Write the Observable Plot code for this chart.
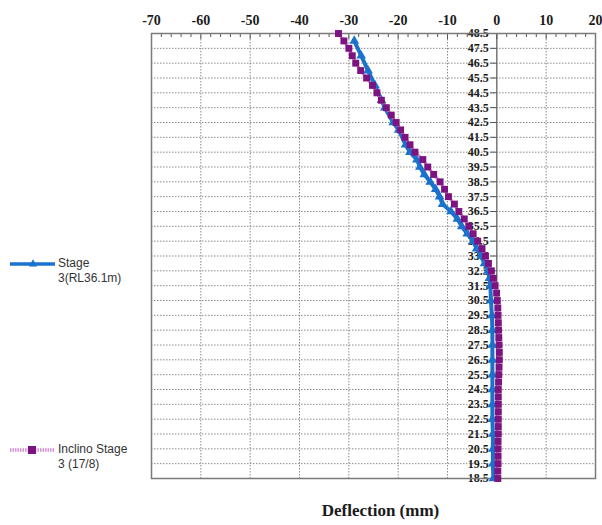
<!DOCTYPE html>
<html>
<head>
<meta charset="utf-8">
<script src="https://cdn.jsdelivr.net/npm/d3@7"></script>
<script src="https://cdn.jsdelivr.net/npm/@observablehq/plot@0.6"></script>
<style>
  html, body { margin: 0; padding: 0; background: #fff; }
  #wrap { position: relative; width: 602px; height: 525px; overflow: hidden; }
  #chart { position: absolute; left: 0; top: 0; }
  .leg { position: absolute; font-family: "Liberation Sans", Arial, sans-serif; font-size: 12px; color: #333; line-height: 15px; }
  .legsw { position: absolute; }
</style>
</head>
<body>
<div id="wrap">
  <div id="chart"></div>
</div>
<script>
// ---------- data ----------
const xTicks = [-70, -60, -50, -40, -30, -20, -10, 0, 10, 20];
const xGrid = [-60, -50, -40, -30, -20, -10, 10];
const xMinor = [-68, -66, -64, -62, -58, -56, -54, -52, -48, -46, -44, -42, -38, -36, -34, -32, -28, -26, -24, -22, -18, -16, -14, -12, -8, -6, -4, -2, 2, 4, 6, 8, 12, 14, 16, 18];
const yTicks = [48.5, 47.5, 46.5, 45.5, 44.5, 43.5, 42.5, 41.5, 40.5, 39.5, 38.5, 37.5, 36.5, 35.5, 34.5, 33.5, 32.5, 31.5, 30.5, 29.5, 28.5, 27.5, 26.5, 25.5, 24.5, 23.5, 22.5, 21.5, 20.5, 19.5, 18.5];
const yGrid = [47.5, 46.5, 45.5, 44.5, 43.5, 42.5, 41.5, 40.5, 39.5, 38.5, 37.5, 36.5, 35.5, 34.5, 33.5, 32.5, 31.5, 30.5, 29.5, 28.5, 27.5, 26.5, 25.5, 24.5, 23.5, 22.5, 21.5, 20.5, 19.5];

const stageName = "Stage 3(RL36.1m)";
const stageDepth = [48.0, 47.0, 46.0, 45.0, 44.0, 43.5, 42.5, 42.0, 41.0, 40.5, 40.0, 39.5, 39.0, 38.5, 38.0, 37.5, 37.0, 36.5, 36.0, 35.5, 35.0, 34.5, 34.0, 33.5, 33.0, 32.5, 32.0, 31.5, 30.5, 29.5, 28.5, 27.5, 26.5, 25.5, 24.5, 23.5, 22.5, 21.5, 20.5, 19.5, 18.5];
const stageDefl  = [-28.9, -27.5, -26.1, -24.7, -23.4, -22.7, -21.0, -19.9, -18.5, -17.6, -16.2, -15.6, -14.7, -13.5, -12.4, -11.6, -11.0, -9.3, -8.0, -7.1, -6.0, -4.8, -4.1, -3.2, -2.5, -1.8, -1.5, -1.3, -1.2, -1.0, -0.9, -0.9, -0.9, -0.9, -0.9, -0.9, -0.9, -0.8, -0.8, -0.8, -0.7];

const inclName = "Inclino Stage 3 (17/8)";
const inclDepth = [48.5, 48.0, 47.5, 47.0, 46.5, 46.0, 45.5, 45.0, 44.5, 44.0, 43.5, 43.0, 42.5, 42.0, 41.5, 41.0, 40.5, 40.0, 39.5, 39.0, 38.5, 38.0, 37.5, 37.0, 36.5, 36.0, 35.5, 35.0, 34.5, 34.0, 33.5, 33.0, 32.5, 32.0, 31.5, 31.0, 30.5, 30.0, 29.5, 29.0, 28.5, 28.0, 27.5, 27.0, 26.5, 26.0, 25.5, 25.0, 24.5, 24.0, 23.5, 23.0, 22.5, 22.0, 21.5, 21.0, 20.5, 20.0, 19.5, 19.0, 18.5];
const inclDefl  = [-32.1, -31.0, -30.0, -29.3, -28.6, -27.6, -26.4, -25.2, -24.3, -23.4, -22.4, -21.4, -20.4, -19.5, -18.6, -17.6, -16.6, -15.0, -14.0, -12.8, -11.5, -10.6, -9.8, -8.6, -7.7, -6.6, -5.7, -4.8, -3.9, -3.0, -2.3, -1.7, -1.1, -0.7, -0.35, -0.05, 0.1, 0.2, 0.25, 0.3, 0.35, 0.4, 0.45, 0.5, 0.5, 0.45, 0.4, 0.35, 0.3, 0.3, 0.3, 0.3, 0.3, 0.3, 0.3, 0.25, 0.25, 0.25, 0.25, 0.2, 0.2];

const xLabel = "Deflection (mm)";

// ---------- build ----------
const stage = stageDepth.map((d, i) => ({depth: d, defl: stageDefl[i]}));
const incl = inclDepth.map((d, i) => ({depth: d, defl: inclDefl[i]}));

const W = 602, H = 525, mL = 151, mR = 7, mT = 33, mB = 47;
const blue = "#1a72cc";
const purple = "#7d1380";

const chart = Plot.plot({
  width: W, height: H,
  marginLeft: mL, marginRight: mR, marginTop: mT, marginBottom: mB,
  style: {fontFamily: "'Liberation Serif', 'Times New Roman', serif", background: "#fff"},
  x: {domain: [-70, 20], axis: null},
  y: {domain: [18.5, 48.5], axis: null},
  marks: [
    Plot.ruleY(yGrid, {y: d => d, stroke: "#8a8a8a", strokeWidth: 1, strokeDasharray: "1.5,1.5"}),
    Plot.ruleX(xGrid, {x: d => d, stroke: "#8a8a8a", strokeWidth: 1, strokeDasharray: "1.5,1.5"}),
    Plot.tickX(xMinor, {x: d => d, stroke: "#555", strokeWidth: 1, insetBottom: H - mT - mB - 4}),
    Plot.tickX(xTicks, {x: d => d, stroke: "#555", strokeWidth: 1, insetBottom: H - mT - mB - 6}),
    Plot.ruleX([0], {x: d => d, stroke: "#555", strokeWidth: 1.2}),
    Plot.ruleY(yTicks, {y: d => d, x1: () => 0, x2: () => 0, insetLeft: 0, insetRight: 6, stroke: "#555", strokeWidth: 1}),
    Plot.text(yTicks, {x: () => 0, y: d => d, text: d => d.toFixed(1), textAnchor: "end", dx: -8, fontSize: 12, fontWeight: "bold", fill: "#1a1a1a"}),
    Plot.text(xTicks, {x: d => d, frameAnchor: "top", dy: -18, text: d => String(d), fontSize: 14, fontWeight: "bold", fill: "#1a1a1a"}),
    Plot.frame({stroke: "#7a7a7a", strokeWidth: 1.5}),
    Plot.line(stage, {x: "defl", y: "depth", stroke: blue, strokeWidth: 4, curve: "linear"}),
    Plot.dot(stage, {x: "defl", y: "depth", symbol: "triangle", fill: blue, r: 3.6}),
    Plot.line(incl, {x: "defl", y: "depth", stroke: "#cf8fd0", strokeWidth: 3, strokeDasharray: "1.5,1.5"}),
    Plot.dot(incl, {x: "defl", y: "depth", symbol: "square", fill: purple, r: 3.9}),
    Plot.text([xLabel], {text: d => d, frameAnchor: "bottom", dy: 37, dx: 7, fontSize: 17, fontWeight: "bold", fill: "#1a1a1a"})
  ]
});
document.getElementById("chart").appendChild(chart);

// ---------- legend ----------
function legendItem(top, name, kind) {
  const wrap = document.getElementById("wrap");
  const parts = name.split(/(?<=Stage) /);
  const sw = d3.create("svg").attr("class", "legsw").attr("width", 50).attr("height", 12)
    .style("left", "8px").style("top", (top - 6) + "px");
  if (kind === "stage") {
    sw.append("line").attr("x1", 2).attr("x2", 47).attr("y1", 6).attr("y2", 6)
      .attr("stroke", blue).attr("stroke-width", 3.5);
    sw.append("path").attr("d", d3.symbol(d3.symbolTriangle, 30)()).attr("transform", "translate(25,6)").attr("fill", blue);
  } else {
    sw.append("line").attr("x1", 2).attr("x2", 47).attr("y1", 6).attr("y2", 6)
      .attr("stroke", "#d68fd6").attr("stroke-width", 3.5).attr("stroke-dasharray", "1.5,1");
    sw.append("rect").attr("x", 20).attr("y", 2).attr("width", 8).attr("height", 8).attr("fill", purple);
  }
  wrap.appendChild(sw.node());
  const div = document.createElement("div");
  div.className = "leg";
  div.style.left = "58px";
  div.style.top = (top - 8) + "px";
  div.innerHTML = parts[0] + "<br>" + (parts[1] || "");
  wrap.appendChild(div);
}
legendItem(264, stageName, "stage");
legendItem(450, inclName, "incl");
</script>
</body>
</html>
